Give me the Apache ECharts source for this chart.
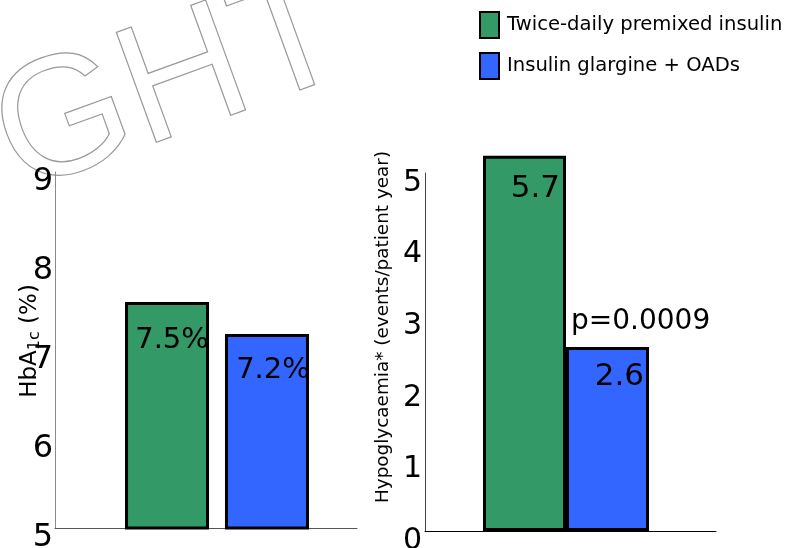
<!DOCTYPE html>
<html><head><meta charset="utf-8">
<script src="https://cdn.jsdelivr.net/npm/echarts@6/dist/echarts.min.js"></script>
<style>html,body{margin:0;padding:0;background:#fff}#c{width:786px;height:548px}</style>
</head><body><div id="c"></div>
<script>
// ---- data ----
const seriesNames = ['Twice-daily premixed insulin', 'Insulin glargine + OADs'];
const seriesColors = ['#339966', '#3366FF'];
const hba1cBars = [7.54, 7.18];          // bar heights as drawn
const hba1cLabels = ['7.5%', '7.2%'];    // printed values
const hba1cTicks = [5, 6, 7, 8, 9];
const hypoBars = [5.24, 2.57];           // bar heights as drawn (green bar is clipped in the original)
const hypoLabels = ['5.7', '2.6'];       // printed values
const hypoTicks = [0, 1, 2, 3, 4, 5];
const pValueText = 'p=0.0009';
const watermarkText = 'GHT';

const FONT = 'DejaVu Sans';
const chart = echarts.init(document.getElementById('c'), null, {renderer: 'canvas'});

function decorX(idx, color) {
  return {gridIndex: idx, type: 'category', data: [''], axisLine: {show: true, lineStyle: {color: color, width: 1}},
    axisTick: {show: false}, axisLabel: {show: false}, splitLine: {show: false}};
}
function hiddenX(idx) {
  return {gridIndex: idx, type: 'category', data: [''], show: false};
}
function grid(left, top, width, height) {
  return {left: left, top: top, width: width, height: height, containLabel: false, outerBoundsMode: 'none'};
}

const option = {
  backgroundColor: '#fff',
  animation: false,
  textStyle: {fontFamily: FONT},
  legend: {
    data: seriesNames, orient: 'vertical', left: 479, top: 11, itemWidth: 19, itemHeight: 26, itemGap: 13,
    icon: 'rect', padding: 0,
    textStyle: {fontFamily: FONT, fontSize: 19.6, color: '#000', padding: [0, 0, 0, 3]}
  },
  grid: [
    grid(55, 172, 302, 356),
    grid(55, 172, 324, 356),
    grid(425, 173, 291, 358),
    grid(425, 173, 282, 358)
  ],
  xAxis: [decorX(0, '#555'), hiddenX(1), decorX(2, '#000'), hiddenX(3)],
  yAxis: [
    {gridIndex: 0, type: 'value', min: hba1cTicks[0], max: hba1cTicks[hba1cTicks.length - 1], interval: 1,
      axisLine: {show: true, lineStyle: {color: '#8a8a8a'}}, axisTick: {show: false}, splitLine: {show: false},
      axisLabel: {fontFamily: FONT, fontSize: 32, color: '#000', margin: 2, verticalAlign: 'top', lineHeight: 20},
      name: '{n|HbA}{s|1c}{n| (%)}', nameLocation: 'middle', nameGap: 12, nameRotate: 90, nameMoveOverlap: false,
      nameTextStyle: {padding: [0, 0, 0, 18], rich: {
        n: {fontFamily: FONT, fontSize: 23, color: '#000'},
        s: {fontFamily: FONT, fontSize: 16, color: '#000', verticalAlign: 'bottom', padding: [10, 0, 0, 0]}}}},
    {gridIndex: 1, type: 'value', min: hba1cTicks[0], max: hba1cTicks[hba1cTicks.length - 1], show: false},
    {gridIndex: 2, type: 'value', min: hypoTicks[0], max: hypoTicks[hypoTicks.length - 1], interval: 1,
      axisLine: {show: true, lineStyle: {color: '#444'}}, axisTick: {show: false}, splitLine: {show: false},
      axisLabel: {fontFamily: FONT, fontSize: 30, color: '#000', margin: 3, verticalAlign: 'top', lineHeight: 20},
      name: 'Hypoglycaemia* (events/patient year)', nameLocation: 'middle', nameGap: 33, nameRotate: 90, nameMoveOverlap: false,
      nameTextStyle: {fontFamily: FONT, fontSize: 18.4, color: '#000', padding: [0, 0, 0, 50]}},
    {gridIndex: 3, type: 'value', min: hypoTicks[0], max: hypoTicks[hypoTicks.length - 1], show: false}
  ],
  series: [
    {name: seriesNames[0], type: 'bar', xAxisIndex: 1, yAxisIndex: 1, data: [hba1cBars[0]], barWidth: 84, barGap: '19%',
      itemStyle: {color: seriesColors[0], borderColor: '#000', borderWidth: 3},
      label: {show: true, position: [47, 24], align: 'center', verticalAlign: 'top', fontFamily: FONT, fontSize: 29, color: '#000',
        formatter: () => hba1cLabels[0]}},
    {name: seriesNames[1], type: 'bar', xAxisIndex: 1, yAxisIndex: 1, data: [hba1cBars[1]], barWidth: 84, barGap: '19%',
      itemStyle: {color: seriesColors[1], borderColor: '#000', borderWidth: 3},
      label: {show: true, position: [48, 22], align: 'center', verticalAlign: 'top', fontFamily: FONT, fontSize: 29, color: '#000',
        formatter: () => hba1cLabels[1]}},
    {name: seriesNames[0], type: 'bar', xAxisIndex: 3, yAxisIndex: 3, data: [hypoBars[0]], barWidth: 83, barGap: '0%', clip: false,
      itemStyle: {color: seriesColors[0], borderColor: '#000', borderWidth: 3},
      label: {show: true, position: [77, 18], align: 'right', verticalAlign: 'top', fontFamily: FONT, fontSize: 31, color: '#000',
        formatter: () => hypoLabels[0]}},
    {name: seriesNames[1], type: 'bar', xAxisIndex: 3, yAxisIndex: 3, data: [hypoBars[1]], barWidth: 83, barGap: '0%', clip: false,
      itemStyle: {color: seriesColors[1], borderColor: '#000', borderWidth: 3},
      label: {show: true, position: [78, 14], align: 'right', verticalAlign: 'top', fontFamily: FONT, fontSize: 31, color: '#000',
        formatter: () => hypoLabels[1]}}
  ]
};
chart.setOption(option);

// annotation anchored to the blue bar in the right panel
const pt = chart.convertToPixel({xAxisIndex: 3, yAxisIndex: 3}, [0, hypoBars[1]]);
chart.setOption({
  graphic: [
    {type: 'text', z: -10, silent: true, x: 32, y: 228, rotation: 20 * Math.PI / 180,
      style: {text: watermarkText, fontFamily: 'Liberation Sans', fontSize: 170, fill: 'rgba(0,0,0,0)', stroke: '#999', lineWidth: 1.2,
        align: 'left', verticalAlign: 'bottom'}},
    {type: 'text', x: pt[0] + 5, y: pt[1] - 11,
      style: {text: pValueText, fontFamily: FONT, fontSize: 28, fill: '#000', align: 'left', verticalAlign: 'bottom'}}
  ]
});
</script></body></html>
